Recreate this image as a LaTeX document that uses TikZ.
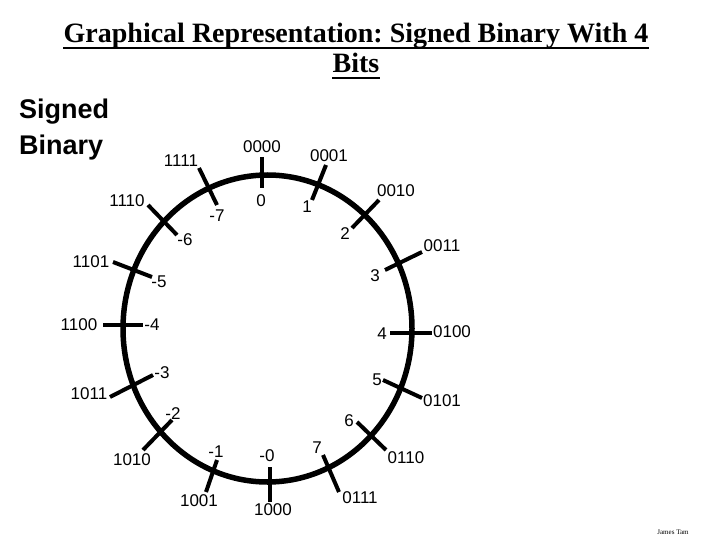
\documentclass[tikz,border=0pt]{standalone}
\usepackage{fontspec}
\setmainfont{Liberation Serif}
\setsansfont{Liberation Sans}
\usetikzlibrary{positioning}
\frenchspacing

\begin{document}
\begin{tikzpicture}[x=1pt,y=-1pt,
    num/.style={font=\sffamily\fontsize{17}{20}\selectfont, inner sep=0pt},
    tick/.style={line width=4pt},
    heading/.style={anchor=base, inner sep=0pt, font=\bfseries\fontsize{28}{30}\selectfont}]
    \useasboundingbox (0,0) rectangle (720,540);
    % title
    \node[heading] (title1) at (356,43) {Graphical Representation: Signed Binary With 4};
    \node[heading] (title2) at (356,73) {Bits};
    \draw[line width=1.8pt] ([yshift=-5pt]title1.base west) -- ([yshift=-5pt]title1.base east);
    \draw[line width=1.8pt] ([yshift=-5pt]title2.base west) -- ([yshift=-5pt]title2.base east);
    \node[anchor=base west, inner sep=0pt, font=\sffamily\bfseries\fontsize{27}{30}\selectfont] (kind1) at (19,119) {Signed};
    \node[anchor=base west, inner sep=0pt, font=\sffamily\bfseries\fontsize{27}{30}\selectfont] (kind2) at (19,155) {Binary};
    % the wheel
    \draw[line width=5.5pt] (267.5,328.5) ellipse [x radius=144.5, y radius=153.5];
    \draw[tick] (262,157) -- (262,188);
    \draw[tick] (326,165) -- (312,200);
    \draw[tick] (379,200) -- (352,228);
    \draw[tick] (422,252) -- (385,270);
    \draw[tick] (432,333) -- (390,333);
    \draw[tick] (422,398) -- (383,380);
    \draw[tick] (386,450) -- (357,422);
    \draw[tick] (339,492) -- (323,455);
    \draw[tick] (270,502) -- (270,467);
    \draw[tick] (206,492) -- (217,460);
    \draw[tick] (143,450) -- (172,420);
    \draw[tick] (110,397) -- (153,375);
    \draw[tick] (103,325) -- (143,325);
    \draw[tick] (113,262) -- (152,277);
    \draw[tick] (148,205) -- (177,235);
    \draw[tick] (199,168) -- (217,205);
    % bit patterns
    \node[num] (b0000) at (262,147) {0000};
    \node[num] (b0001) at (329,156) {0001};
    \node[num] (b0010) at (396,191) {0010};
    \node[num] (b0011) at (442,246) {0011};
    \node[num] (b0100) at (452,332) {0100};
    \node[num] (b0101) at (442,401) {0101};
    \node[num] (b0110) at (406,458) {0110};
    \node[num] (b0111) at (360,498) {0111};
    \node[num] (b1000) at (273,510) {1000};
    \node[num] (b1001) at (199,501) {1001};
    \node[num] (b1010) at (132,460) {1010};
    \node[num] (b1011) at (89,394) {1011};
    \node[num] (b1100) at (79,325) {1100};
    \node[num] (b1101) at (91,262) {1101};
    \node[num] (b1110) at (127,201) {1110};
    \node[num] (b1111) at (181,161) {1111};
    % values
    \node[num] (v0) at (261,201) {0};
    \node[num] (v1) at (307,207) {1};
    \node[num] (v2) at (345,234) {2};
    \node[num] (v3) at (375,276) {3};
    \node[num] (v4) at (382,334) {4};
    \node[num] (v5) at (377,380) {5};
    \node[num] (v6) at (349,421) {6};
    \node[num] (v7) at (317,448) {7};
    \node[num] (vm0) at (267,456) {-0};
    \node[num] (vm1) at (216,452) {-1};
    \node[num] (vm2) at (173,414) {-2};
    \node[num] (vm3) at (162,373) {-3};
    \node[num] (vm4) at (152,325) {-4};
    \node[num] (vm5) at (159,282) {-5};
    \node[num] (vm6) at (185,240) {-6};
    \node[num] (vm7) at (217,216) {-7};
    \node[inner sep=0pt, font=\fontsize{7}{8}\selectfont] (author) at (673,532) {James Tam};
\end{tikzpicture}
\end{document}
